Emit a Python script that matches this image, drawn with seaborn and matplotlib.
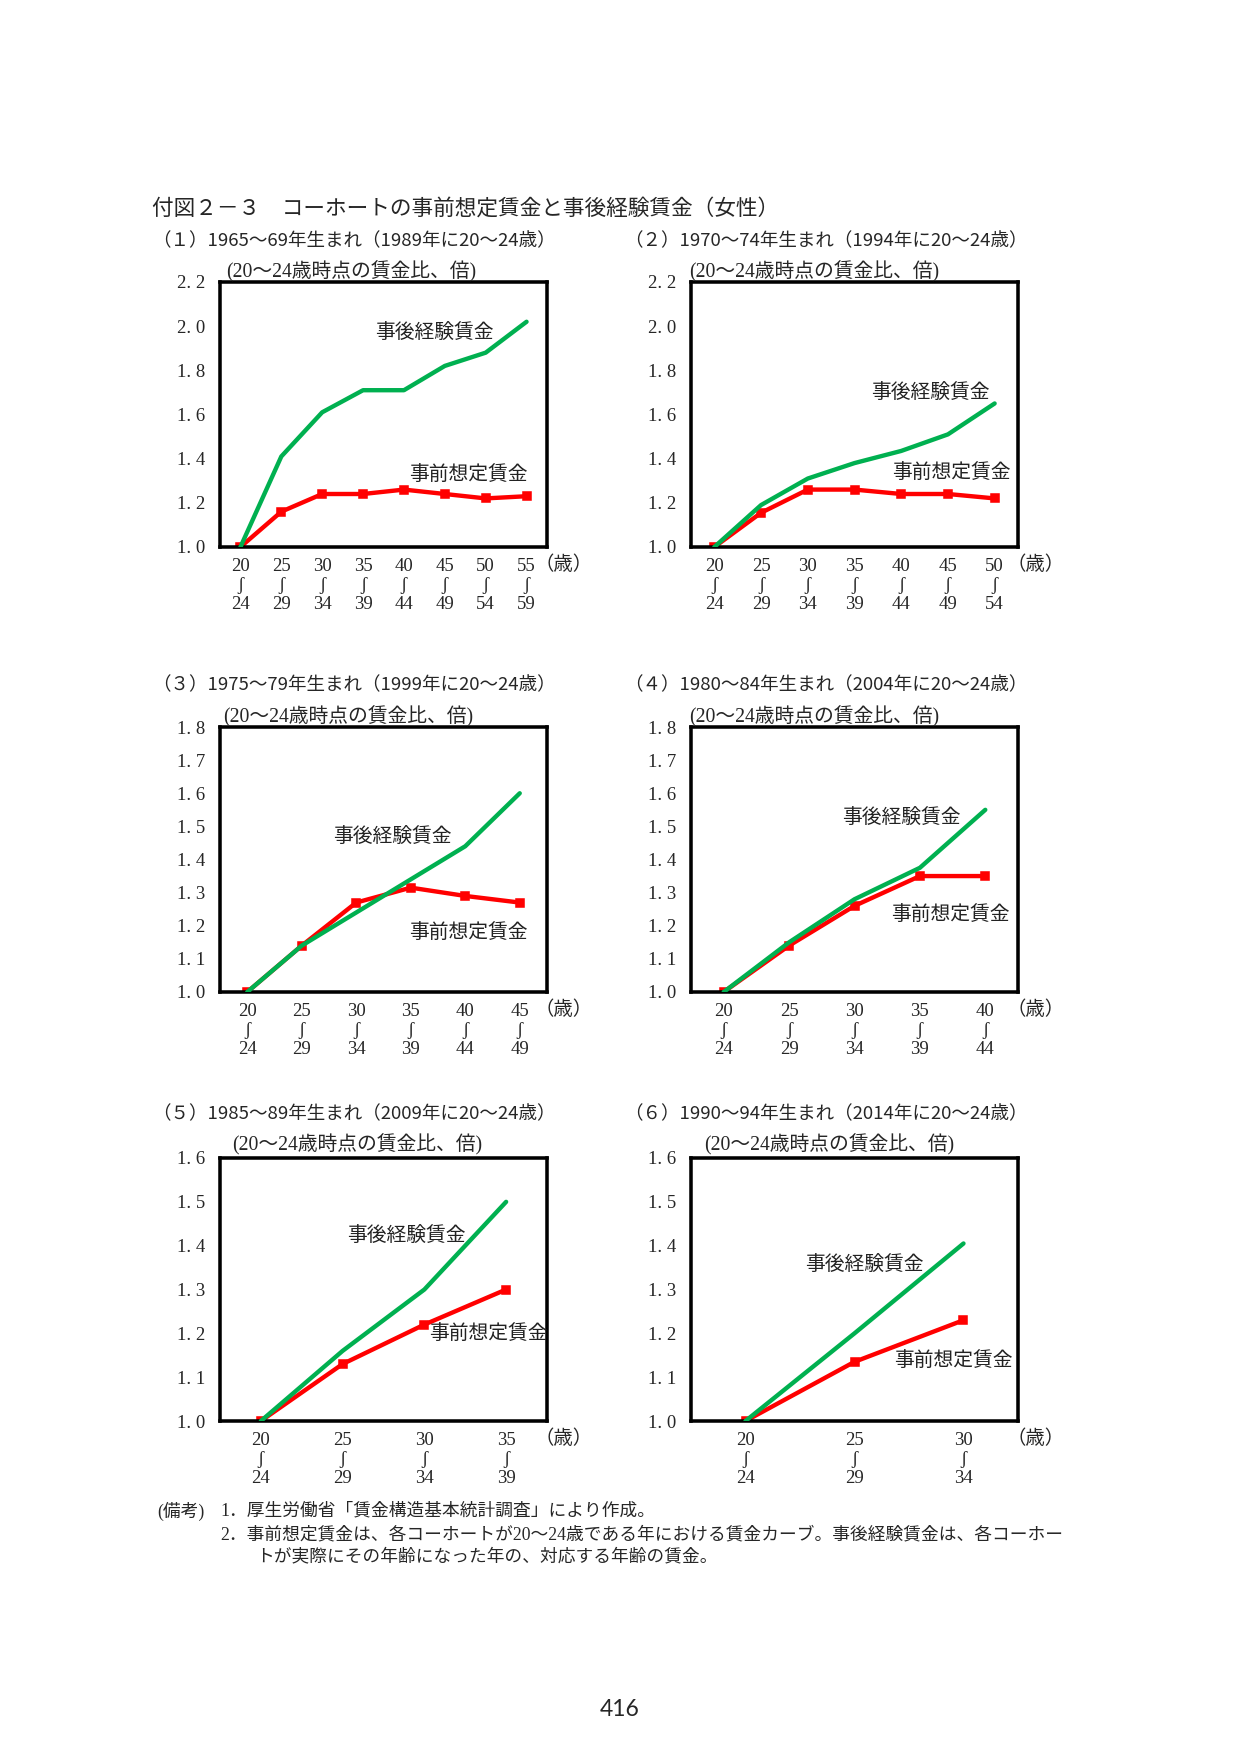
import numpy as np
import pandas as pd
import seaborn as sns
import matplotlib.pyplot as plt

W, H = 1241, 1755
DPI = 150

sns.set_style('white')
plt.rcParams['font.family'] = ['Noto Sans CJK JP', 'DejaVu Sans']
SERIF = ['Liberation Serif', 'Noto Sans CJK JP', 'DejaVu Sans']

# ---- data (ratio to wage at age 20-24) ----
age_from = [20, 25, 30, 35, 40, 45, 50, 55]
age_to = [24, 29, 34, 39, 44, 49, 54, 59]

post_1965 = [1.00, 1.41, 1.61, 1.71, 1.71, 1.82, 1.88, 2.02]
ante_1965 = [1.00, 1.16, 1.24, 1.24, 1.26, 1.24, 1.22, 1.23]
post_1970 = [1.00, 1.19, 1.31, 1.38, 1.435, 1.51, 1.65]
ante_1970 = [1.00, 1.155, 1.26, 1.26, 1.24, 1.24, 1.22]
post_1975 = [1.00, 1.14, 1.24, 1.34, 1.44, 1.60]
ante_1975 = [1.00, 1.14, 1.27, 1.315, 1.29, 1.27]
post_1980 = [1.00, 1.15, 1.28, 1.375, 1.55]
ante_1980 = [1.00, 1.14, 1.26, 1.35, 1.35]
post_1985 = [1.00, 1.16, 1.30, 1.50]
ante_1985 = [1.00, 1.13, 1.22, 1.30]
post_1990 = [1.00, 1.20, 1.405]
ante_1990 = [1.00, 1.135, 1.23]

yticks_wide = [1.0, 1.2, 1.4, 1.6, 1.8, 2.0, 2.2]
yticks_mid = [1.0, 1.1, 1.2, 1.3, 1.4, 1.5, 1.6, 1.7, 1.8]
yticks_low = [1.0, 1.1, 1.2, 1.3, 1.4, 1.5, 1.6]

subtitles = [
    '（１）1965～69年生まれ（1989年に20～24歳）',
    '（２）1970～74年生まれ（1994年に20～24歳）',
    '（３）1975～79年生まれ（1999年に20～24歳）',
    '（４）1980～84年生まれ（2004年に20～24歳）',
    '（５）1985～89年生まれ（2009年に20～24歳）',
    '（６）1990～94年生まれ（2014年に20～24歳）',
]
posts = [post_1965, post_1970, post_1975, post_1980, post_1985, post_1990]
antes = [ante_1965, ante_1970, ante_1975, ante_1980, ante_1985, ante_1990]
yticks = [yticks_wide, yticks_wide, yticks_mid, yticks_mid, yticks_low, yticks_low]

label_post = '事後経験賃金'
label_ante = '事前想定賃金'
unit_label = '(20～24歳時点の賃金比、倍)'

# ---- layout (pixels on the page) ----
col_left = [220, 691]
row_top = [282, 727, 1158]
box_w = 327
box_h = [265, 265, 263]
# label spots in axes fractions
post_spot = [(0.656, 0.81), (0.731, 0.584), (0.528, 0.588),
             (0.644, 0.658), (0.569, 0.705), (0.529, 0.597)]
ante_spot = [(0.758, 0.27), (0.795, 0.277), (0.758, 0.22),
             (0.792, 0.29), (0.82, 0.33), (0.801, 0.225)]


def fx(x):
    return x / W


def fy(y):
    return 1 - y / H


fig = plt.figure(figsize=(W / DPI, H / DPI), dpi=DPI)
fig.patch.set_facecolor('white')

fig.text(fx(152), fy(209), '付図２－３　コーホートの事前想定賃金と事後経験賃金（女性）',
         ha='left', va='center', fontsize=10.4)

for i in range(6):
    r, c = divmod(i, 2)
    left, top, h = col_left[c], row_top[r], box_h[r]
    ax = fig.add_axes([fx(left), fy(top + h), box_w / W, h / H])

    n = len(posts[i])
    pos = list(range(n))
    df = pd.DataFrame({'pos': pos, 'post': posts[i], 'ante': antes[i]})

    sns.lineplot(data=df, x='pos', y='ante', ax=ax, color='#ff0000', lw=2.1,
                 marker='s', markersize=4.3, markeredgecolor='#ff0000', zorder=2)
    sns.lineplot(data=df, x='pos', y='post', ax=ax, color='#00b050', lw=2.1,
                 zorder=3)

    ax.set_xlim(-0.5, n - 0.5)
    ax.set_ylim(yticks[i][0], yticks[i][-1])
    ax.set_yticks(yticks[i])
    ax.set_yticklabels(['{:.1f}'.format(v).replace('.', '. ') for v in yticks[i]],
                       family=SERIF, fontsize=9)
    ax.set_xticks(pos)
    ax.set_xticklabels(['{}\nʃ\n{}'.format(age_from[k], age_to[k]) for k in pos],
                       family=['Liberation Serif', 'DejaVu Serif'], fontsize=9,
                       linespacing=1.12)
    ax.tick_params(axis='x', length=0, pad=5.5)
    ax.tick_params(axis='y', direction='in', length=2.5, width=0.8, pad=7)
    ax.set_xlabel('')
    ax.set_ylabel('')
    for sp in ax.spines.values():
        sp.set_color('black')
        sp.set_linewidth(1.7)

    ax.text(*post_spot[i], label_post, transform=ax.transAxes, ha='center',
            va='center', fontsize=9.5, color='#222222')
    ax.text(*ante_spot[i], label_ante, transform=ax.transAxes, ha='center',
            va='center', fontsize=9.5, color='#222222')

    sub_x = 152 if c == 0 else 624
    sub_y = [241, 685, 1114][r]
    fig.text(fx(sub_x), fy(sub_y), subtitles[i], ha='left', va='center',
             fontsize=8.9)

    unit_x = [[226, 689], [223, 689], [232, 704]][r][c]
    unit_y = [272, 717, 1145][r]
    fig.text(fx(unit_x), fy(unit_y), unit_label, ha='left', va='center',
             family=SERIF, fontsize=9.5)

    fig.text(fx(left + box_w + 18 - (1 if c == 0 else 0)), fy(top + h + 18),
             '（歳）', ha='center', va='center', family=SERIF, fontsize=9.3)

fig.text(fx(157), fy(1511), '(備考)', ha='left', va='center',
         family=SERIF, fontsize=8.5)
fig.text(fx(220), fy(1511), '1．厚生労働省「賃金構造基本統計調査」により作成。',
         ha='left', va='center', family=SERIF, fontsize=8.5)
fig.text(fx(220), fy(1535),
         '2．事前想定賃金は、各コーホートが20～24歳である年における賃金カーブ。'
         '事後経験賃金は、各コーホー',
         ha='left', va='center', family=SERIF, fontsize=8.5)
fig.text(fx(256), fy(1557), 'トが実際にその年齢になった年の、対応する年齢の賃金。',
         ha='left', va='center', family=SERIF, fontsize=8.5)

fig.text(fx(620), fy(1710), '416', ha='center', va='center',
         family='Lato', fontsize=11)

fig.savefig('out.png', dpi=DPI)
